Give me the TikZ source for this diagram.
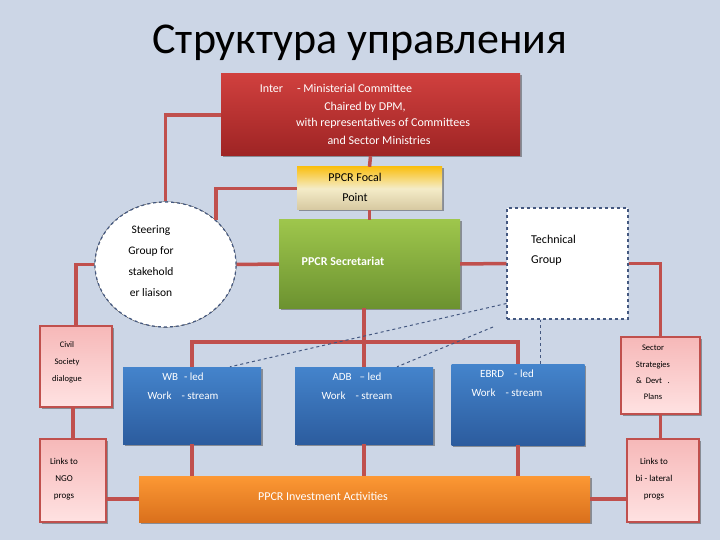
\documentclass[tikz,border=0pt]{standalone}
\usepackage{fontspec}
\setmainfont{Carlito}
\usetikzlibrary{shapes.geometric}
\usetikzlibrary{shadows}
\usetikzlibrary{calc}

\definecolor{bgblue}{RGB}{204,214,230}
\definecolor{linkred}{RGB}{192,80,77}
\definecolor{dashblue}{RGB}{68,88,128}
\definecolor{redtop}{RGB}{208,64,62}
\definecolor{redbot}{RGB}{158,36,36}
\definecolor{goldtop}{RGB}{250,192,20}
\definecolor{goldmid}{RGB}{244,236,200}
\definecolor{goldbot}{RGB}{214,200,160}
\definecolor{greentop}{RGB}{158,198,76}
\definecolor{greenbot}{RGB}{108,146,48}
\definecolor{bluetop}{RGB}{68,132,204}
\definecolor{bluebot}{RGB}{44,92,158}
\definecolor{orangetop}{RGB}{252,152,52}
\definecolor{orangebot}{RGB}{218,112,28}
\definecolor{pinktop}{RGB}{246,184,184}
\definecolor{pinkbot}{RGB}{255,226,226}

\begin{document}
\begin{tikzpicture}[x=1pt, y=-1pt,
    box/.style={inner sep=0pt, drop shadow={shadow xshift=1.5pt, shadow yshift=-1.5pt, fill=black!80, opacity=.45}},
    redbox/.style={box, top color=redtop, bottom color=redbot},
    goldbox/.style={box, top color=goldtop, bottom color=goldbot, middle color=goldmid},
    greenbox/.style={box, top color=greentop, bottom color=greenbot},
    bluebox/.style={box, top color=bluetop, bottom color=bluebot, minimum width=138pt, minimum height=77pt},
    orangebox/.style={box, top color=orangetop, bottom color=orangebot},
    pinkbox/.style={box, draw=linkred, line width=1.2pt, top color=pinktop, bottom color=pinkbot},
    whitebox/.style={inner sep=0pt, fill=white, draw=dashblue, dashed, line width=1.2pt},
    link/.style={draw=linkred, line width=3.5pt},
    dline/.style={draw=dashblue, dashed, line width=1pt},
    txt/.style={inner sep=0pt, align=center, font=\fontsize{12}{14.4}\selectfont},
    small/.style={inner sep=0pt, align=center, font=\fontsize{8.5}{10.2}\selectfont}
  ]
    \useasboundingbox (0,0) rectangle (720,540);
    \fill[bgblue] (0,0) rectangle (720,540);

    \node[txt, font=\fontsize{44}{48}\selectfont] (title) at (360,43) {Структура управления};

    % boxes
    \node[redbox, minimum width=299pt, minimum height=82pt] (imc) at (370.5,115) {};
    \node[goldbox, minimum width=145pt, minimum height=43pt] (focal) at (369.5,188.5) {};
    \node[ellipse, whitebox, preaction={draw=black, solid, line width=.6pt}, minimum width=141pt, minimum height=125pt] (steer) at (165.5,264.5) {};
    \node[greenbox, minimum width=181pt, minimum height=88pt] (sec) at (369.5,264) {};
    \node[rectangle, whitebox, minimum width=121pt, minimum height=111pt] (tech) at (567.5,263.5) {};
    \node[pinkbox, minimum width=72pt, minimum height=81pt] (civil) at (76,366.5) {};
    \node[pinkbox, minimum width=79pt, minimum height=77pt] (sector) at (660.5,375.5) {};
    \node[bluebox] (wb) at (192,405.5) {};
    \node[bluebox] (adb) at (364,405.5) {};
    \node[bluebox, minimum width=133pt, minimum height=81pt] (ebrd) at (518,404.5) {};
    \node[pinkbox, minimum width=66pt, minimum height=83pt] (ngo) at (73,480.5) {};
    \node[pinkbox, minimum width=72pt, minimum height=83pt] (bilat) at (663,480.5) {};
    \node[orangebox, minimum width=451pt, minimum height=46pt] (inv) at (364.5,499) {};

    % texts
    \node[txt, text=white] (imc-a) at (336,88) {Inter\hspace{14pt}- Ministerial Committee};
    \node[txt, text=white] (imc-b) at (365,107.5) {Chaired by DPM,};
    \node[txt, text=white] (imc-c) at (383,123.5) {with representatives of Committees};
    \node[txt, text=white] (imc-d) at (379,140.5) {and Sector Ministries};
    \node[txt] (focal-t) at (355,187) {PPCR Focal\\[5.6pt]Point};
    \node[txt, font=\fontsize{11.5}{13.8}\selectfont] (steer-t) at (151,261) {Steering\\[7pt]Group for\\[7pt]stakehold\\[7pt]er liaison};
    \node[txt, text=white, font=\fontsize{12}{14.4}\bfseries] (sec-t) at (343,261) {PPCR Secretariat};
    \node[txt, align=left, anchor=west] (tech-t) at (531,250) {Technical\\[5.6pt]Group};
    \node[small] (civil-t) at (67,362) {Civil\\[6.8pt]Society\\[6.8pt]dialogue};
    \node[small] (sector-t) at (653,372.5) {Sector\\[6pt]Strategies\\[6pt]\& \ Devt \ \ .\\[6pt]Plans};
    \node[txt, text=white, font=\fontsize{11}{13.2}\selectfont] (wb-t) at (183,386.5) {WB\hspace{6pt}- led\\[5.8pt]Work\hspace{10pt}- stream};
    \node[txt, text=white, font=\fontsize{11}{13.2}\selectfont] (adb-t) at (357,386.5) {ADB\hspace{8pt}– led\\[5.8pt]Work\hspace{10pt}- stream};
    \node[txt, text=white, font=\fontsize{11}{13.2}\selectfont] (ebrd-t) at (507,383) {EBRD\hspace{10pt}- led\\[5.8pt]Work\hspace{10pt}- stream};
    \node[small, font=\fontsize{9}{10.8}\selectfont] (ngo-t) at (64,479) {Links to\\[6.2pt]NGO\\[6.2pt]progs};
    \node[small, font=\fontsize{9}{10.8}\selectfont] (bilat-t) at (654,479) {Links to\\[6.2pt]bi - lateral\\[6.2pt]progs};
    \node[txt, text=white] (inv-t) at (323,496) {PPCR Investment Activities};

    % connectors
    \draw[link] (imc.south) -- (focal.north);
    \draw[link] (focal.south) -- (sec.north);
    \draw[link] (imc.west) -| (steer.north);
    \draw[link] (focal.west) -| (steer.north east);
    \draw[link] (steer.west) -| (civil.north);
    \draw[link] (steer.east) -- (sec.west);
    \draw[link] (sec.east) -- (tech.west);
    \draw[link] (tech.east) -| (sector.north);
    \coordinate (bus) at (364,342);
    \draw[link] (sec.south -| adb.north) -- (adb.north);
    \draw[link] (wb.north) |- (bus) -| (ebrd.north);
    \draw[link] (wb.south) -- (wb.south |- inv.north);
    \draw[link] (adb.south) -- (adb.south |- inv.north);
    \draw[link] (ebrd.south) -- (ebrd.south |- inv.north);
    \draw[link] (civil.south -| ngo.north) -- (ngo.north);
    \draw[link] (sector.south) -- (sector.south |- bilat.north);
    \draw[link] (ngo.east |- inv.west) -- (inv.west);
    \draw[link] (inv.east) -- (inv.east -| bilat.west);

    % dashed links from the technical group
    \coordinate (dfree) at (493,327);
    \draw[dline] ([yshift=-40pt]tech.west) -- ([xshift=38pt]wb.north);
    \draw[dline] (dfree) -- ([xshift=33pt]adb.north);
    \draw[dline] ([xshift=22pt]ebrd.north) -- ([xshift=22pt]ebrd.north |- tech.south);
\end{tikzpicture}
\end{document}
